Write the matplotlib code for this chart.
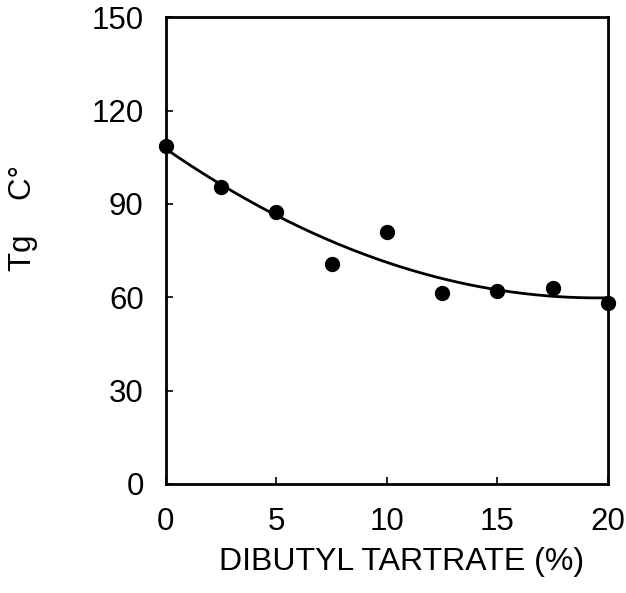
import numpy as np
import matplotlib.pyplot as plt

plt.rcParams['font.family'] = ['Liberation Sans', 'DejaVu Sans']

# DBT content (%) and glass transition temperature
dbt = [0, 2.5, 5, 7.5, 10, 12.5, 15, 17.5, 20]
tg = [108.6, 95.5, 87.5, 70.6, 80.9, 61.3, 62.1, 63.1, 58.2]
xticks = [0, 5, 10, 15, 20]
yticks = [0, 30, 60, 90, 120, 150]

fig = plt.figure(figsize=(6.26, 5.93), dpi=100)
ax = fig.add_axes([0.265, 0.184, 0.706, 0.787])

# second order trendline through the points
coef = np.polyfit(dbt, tg, 2)
xs = np.linspace(0, 20, 200)
ax.plot(xs, np.polyval(coef, xs), color='black', lw=2)
ax.plot(dbt, tg, 'o', color='black', ms=10, clip_on=False, zorder=3)

ax.set_xlim(0, 20)
ax.set_ylim(0, 150)
ax.set_xticks(xticks)
ax.set_yticks(yticks)
ax.tick_params(direction='in', length=5, width=1.2, labelsize=22.5)
ax.tick_params(axis='x', pad=17)
ax.tick_params(axis='y', pad=16)
for s in ax.spines.values():
    s.set_linewidth(2)

fig.text(0.642, 0.039, 'DIBUTYL TARTRATE (%)', fontsize=23,
         ha='center', va='baseline')
fig.text(0.036, 0.632, 'Tg    C°', fontsize=22.5, rotation=90,
         ha='center', va='center')

fig.savefig('out.png', dpi=100)
